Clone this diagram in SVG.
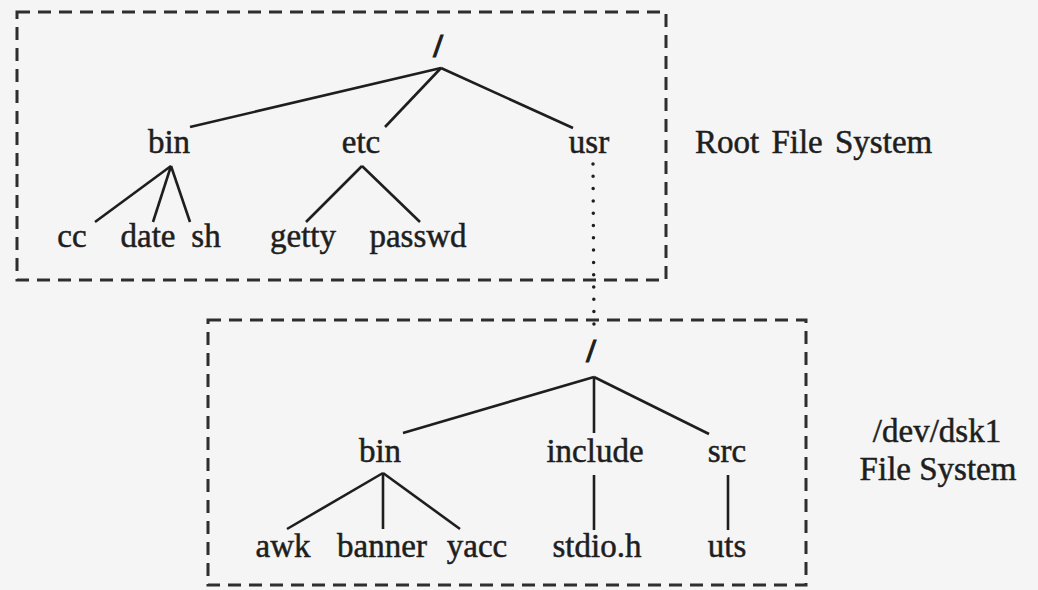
<svg xmlns="http://www.w3.org/2000/svg" width="1038" height="590" viewBox="0 0 1038 590">
<style>
text{font-family:"Liberation Serif","Times New Roman",serif;font-size:33px;fill:#1e1e1e;stroke:#1e1e1e;stroke-width:0.5;text-anchor:middle}
.slash{font-weight:bold;stroke-width:1.2}
.box{fill:none;stroke:#2e2e2e;stroke-width:3;stroke-dasharray:13 8}
.edge{stroke:#1e1e1e;stroke-width:2.6;fill:none}
.dot{stroke:#1e1e1e;stroke-width:3.5;stroke-linecap:round;stroke-dasharray:0 12.3;fill:none}
.lbl{text-anchor:start;word-spacing:4px}
</style>
<rect width="1038" height="590" fill="#f5f5f5"/>
<g id="root-fs-box"><rect class="box" x="17" y="12" width="649" height="268"/></g>
<g id="dsk1-fs-box"><rect class="box" x="208" y="320" width="598" height="265"/></g>
<g id="connectors">
<line class="edge" x1="441" y1="68" x2="190" y2="127"/>
<line class="edge" x1="441" y1="68" x2="385" y2="127"/>
<line class="edge" x1="441" y1="68" x2="573" y2="128"/>
<line class="edge" x1="171" y1="166" x2="95" y2="222"/>
<line class="edge" x1="171" y1="166" x2="153" y2="222"/>
<line class="edge" x1="171" y1="166" x2="190" y2="222"/>
<line class="edge" x1="362" y1="166" x2="306" y2="222"/>
<line class="edge" x1="362" y1="166" x2="420" y2="222"/>
<line class="dot" x1="593" y1="164" x2="594" y2="330"/>
<line class="edge" x1="594" y1="377" x2="403" y2="433"/>
<line class="edge" x1="594" y1="377" x2="594" y2="433"/>
<line class="edge" x1="594" y1="377" x2="709" y2="434"/>
<line class="edge" x1="383" y1="473" x2="287" y2="529"/>
<line class="edge" x1="383" y1="473" x2="383" y2="529"/>
<line class="edge" x1="383" y1="473" x2="460" y2="529"/>
<line class="edge" x1="594" y1="475" x2="594" y2="530"/>
<line class="edge" x1="728" y1="475" x2="728" y2="530"/>
</g>
<g id="root"><text class="slash" x="438" y="57">/</text></g>
<g id="bin"><text x="169" y="153">bin</text></g>
<g id="etc"><text x="361" y="153">etc</text></g>
<g id="usr"><text x="589" y="153">usr</text></g>
<g id="cc"><text x="72" y="247">cc</text></g>
<g id="date"><text x="148" y="247">date</text></g>
<g id="sh"><text x="206" y="247">sh</text></g>
<g id="getty"><text x="303" y="247">getty</text></g>
<g id="passwd"><text x="418" y="247">passwd</text></g>
<g id="root-fs-label"><text class="lbl" x="695" y="153">Root File System</text></g>
<g id="dsk1-root"><text class="slash" x="591" y="362">/</text></g>
<g id="bin2"><text x="380" y="462">bin</text></g>
<g id="include"><text x="595" y="462">include</text></g>
<g id="src"><text x="727" y="462">src</text></g>
<g id="awk"><text x="283" y="557">awk</text></g>
<g id="banner"><text x="382" y="557">banner</text></g>
<g id="yacc"><text x="477" y="557">yacc</text></g>
<g id="stdio"><text x="597" y="557">stdio.h</text></g>
<g id="uts"><text x="727" y="557">uts</text></g>
<g id="dsk1-label"><text x="937" y="442">/dev/dsk1</text><text x="938" y="480">File System</text></g>
</svg>
